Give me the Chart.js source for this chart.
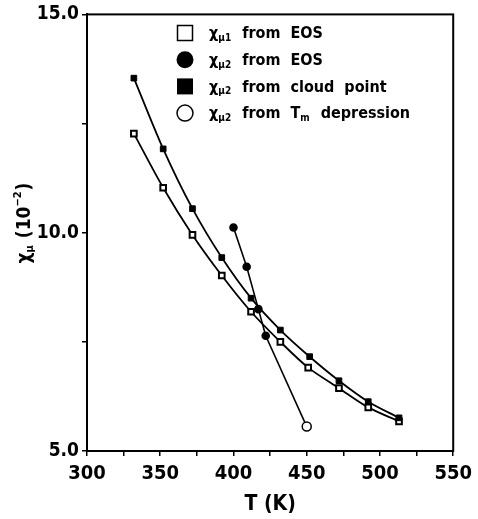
<!DOCTYPE html>
<html>
<head>
<meta charset="utf-8">
<script src="https://cdn.jsdelivr.net/npm/chart.js@4"></script>
<style>
html, body { margin: 0; padding: 0; background: #fff; }
</style>
</head>
<body>
<canvas id="chart-1" width="478" height="519"></canvas>
<script>
// data
var temp_cloud = [332, 352, 372, 392, 412, 432, 452, 472, 492, 513];
var chi_cloud = [13.54, 11.92, 10.55, 9.43, 8.50, 7.77, 7.16, 6.61, 6.13, 5.76];
var temp_eos1 = [332, 352, 372, 392, 412, 432, 451, 472, 492, 513];
var chi_eos1 = [12.27, 11.03, 9.95, 9.02, 8.19, 7.50, 6.91, 6.44, 6.00, 5.68];
var temp_eos2 = [400, 409, 417, 422];
var chi_eos2 = [10.12, 9.22, 8.25, 7.64];
var temp_tm = [422, 450];
var chi_tm = [7.64, 5.56];

var x_ticks = [300, 350, 400, 450, 500, 550];
var y_ticks = [5.0, 10.0, 15.0];

// legend rows: [text, kind]
var legend_rows = [
    { marker: 'openSquare', parts: [['χ', 'n'], ['μ1', 'sub'], ['  from  EOS', 'n']] },
    { marker: 'filledCircle', parts: [['χ', 'n'], ['μ2', 'sub'], ['  from  EOS', 'n']] },
    { marker: 'filledSquare', parts: [['χ', 'n'], ['μ2', 'sub'], ['  from  cloud  point', 'n']] },
    { marker: 'openCircle', parts: [['χ', 'n'], ['μ2', 'sub'], ['  from  T', 'n'], ['m', 'sub'], ['  depression', 'n']] },
];
var y_title_parts = [['χ', 'n'], ['μ', 'sub'], [' (10', 'n'], ['−2', 'sup'], [')', 'n']];

var fam = "'Liberation Sans Narrow', 'DejaVu Sans Condensed', 'Liberation Sans', sans-serif";

function toXY(xs, ys) {
    return xs.map(function(x, i) { return { x: x, y: ys[i] }; });
}

function drawParts(ctx, parts, x, y, size) {
    var cx = x;
    for (var i = 0; i < parts.length; i++) {
        var t = parts[i][0], kind = parts[i][1];
        var s = size, dy = 0;
        if (kind === 'sub') { s = Math.round(size * 0.6); dy = size * 0.28; }
        if (kind === 'sup') { s = Math.round(size * 0.6); dy = -size * 0.38; }
        ctx.font = 'bold ' + s + 'px ' + fam;
        ctx.fillText(t, cx, y + dy);
        cx += ctx.measureText(t).width + (kind === 'n' ? 0 : 1);
    }
    return cx - x;
}

function partsWidth(ctx, parts, size) {
    var w = 0;
    for (var i = 0; i < parts.length; i++) {
        var s = parts[i][1] === 'n' ? size : Math.round(size * 0.6);
        ctx.font = 'bold ' + s + 'px ' + fam;
        w += ctx.measureText(parts[i][0]).width + (parts[i][1] === 'n' ? 0 : 1);
    }
    return w;
}

var extras = {
    id: 'extras',
    afterDraw: function(chart) {
        var ctx = chart.ctx;
        var a = chart.chartArea;
        ctx.save();
        // frame
        ctx.strokeStyle = 'black';
        ctx.lineWidth = 2;
        ctx.strokeRect(a.left, a.top, a.right - a.left, a.bottom - a.top);

        // legend
        ctx.fillStyle = 'black';
        ctx.textBaseline = 'middle';
        ctx.textAlign = 'left';
        for (var i = 0; i < legend_rows.length; i++) {
            var row = legend_rows[i];
            var cy = 33 + i * 26.7;
            var mx = 185;
            ctx.lineWidth = 1.5;
            if (row.marker === 'openSquare') {
                ctx.strokeRect(mx - 7.5, cy - 7.5, 15, 15);
            } else if (row.marker === 'filledSquare') {
                ctx.fillRect(mx - 8, cy - 8, 16, 16);
            } else if (row.marker === 'filledCircle') {
                ctx.beginPath(); ctx.arc(mx, cy, 8.5, 0, Math.PI * 2); ctx.fill();
            } else {
                ctx.beginPath(); ctx.arc(mx, cy, 8, 0, Math.PI * 2); ctx.stroke();
            }
            drawParts(ctx, row.parts, 209, cy + 1, 16);
        }

        // y title, rotated
        ctx.translate(25, 223);
        ctx.rotate(-Math.PI / 2);
        var w = partsWidth(ctx, y_title_parts, 19);
        drawParts(ctx, y_title_parts, -w / 2, 0, 19);
        ctx.restore();
    }
};

var ctx = document.getElementById('chart-1').getContext('2d');
var myChart = new Chart(ctx, {
    type: 'line',
    data: {
        datasets: [{ // cloud point
                label: 'χμ2 from cloud point',
                data: toXY(temp_cloud, chi_cloud),
                borderColor: 'black',
                backgroundColor: 'black',
                borderWidth: 1.8,
                pointStyle: 'rect',
                pointRadius: 4,
                pointBorderWidth: 1,
                tension: 0.3,
            },
            { // eos 1
                label: 'χμ1 from EOS',
                data: toXY(temp_eos1, chi_eos1),
                borderColor: 'black',
                backgroundColor: 'white',
                borderWidth: 1.8,
                pointStyle: 'rect',
                pointRadius: 4,
                pointBorderWidth: 2,
                tension: 0.3,
            },
            { // eos 2
                label: 'χμ2 from EOS',
                data: toXY(temp_eos2, chi_eos2),
                borderColor: 'black',
                backgroundColor: 'black',
                borderWidth: 1.6,
                pointStyle: 'circle',
                pointRadius: 3.5,
                tension: 0,
            },
            { // Tm depression
                label: 'χμ2 from Tm depression',
                data: toXY(temp_tm, chi_tm),
                borderColor: 'black',
                backgroundColor: 'white',
                borderWidth: 1.6,
                pointStyle: 'circle',
                pointRadius: [0, 4.5],
                pointBorderWidth: 1.5,
                tension: 0,
            },
        ],
    },
    options: {
        responsive: false,
        animation: false,
        layout: {
            padding: { left: 0, right: 24, top: 13, bottom: 0 }
        },
        scales: {
            x: {
                type: 'linear',
                min: 300,
                max: 550,
                afterFit: function(s) { s.height = 68; },
                ticks: {
                    stepSize: 25,
                    autoSkip: false,
                    maxRotation: 0,
                    padding: 6,
                    color: 'black',
                    font: { family: fam, size: 20, weight: 'bold' },
                    callback: function(v) { return x_ticks.indexOf(v) >= 0 ? String(v) : ''; }
                },
                grid: { drawOnChartArea: false, color: 'black', lineWidth: 1.5, tickLength: 5 },
                border: { color: 'black', width: 2 },
                title: {
                    display: true,
                    text: 'T (K)',
                    color: 'black',
                    padding: { top: 4, bottom: 2 },
                    font: { family: fam, size: 21, weight: 'bold' }
                },
            },
            y: {
                min: 5,
                max: 15,
                afterFit: function(s) { s.width = 87; },
                ticks: {
                    stepSize: 2.5,
                    autoSkip: false,
                    padding: 3,
                    color: 'black',
                    font: { family: fam, size: 19, weight: 'bold' },
                    callback: function(v) { return y_ticks.indexOf(v) >= 0 ? v.toFixed(1) : ''; }
                },
                grid: { drawOnChartArea: false, color: 'black', lineWidth: 1.5, tickLength: 5 },
                border: { color: 'black', width: 2 },
            },
        },
        plugins: {
            legend: { display: false },
            tooltip: { enabled: false },
        },
    },
    plugins: [extras],
});
</script>
</body>
</html>
